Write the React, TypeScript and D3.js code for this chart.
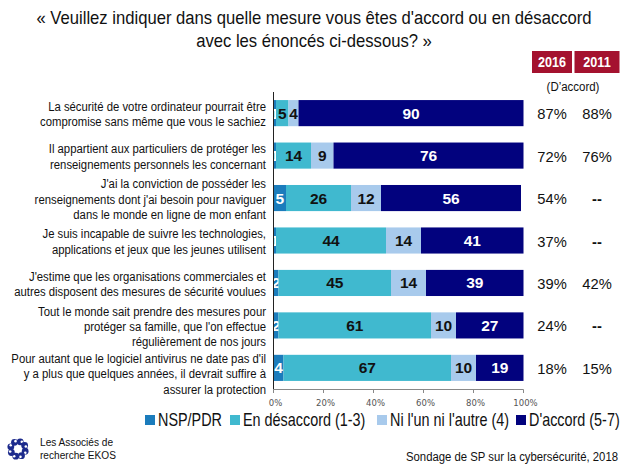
import React from "react";
import * as d3 from "d3";

const categories: string[][] = [
  ["La sécurité de votre ordinateur pourrait être", "compromise sans même que vous le sachiez"],
  ["Il appartient aux particuliers de protéger les", "renseignements personnels les concernant"],
  ["J'ai la conviction de posséder les", "renseignements dont j'ai besoin pour naviguer", "dans le monde en ligne de mon enfant"],
  ["Je suis incapable de suivre les technologies,", "applications et jeux que les jeunes utilisent"],
  ["J'estime que les organisations commerciales et", "autres disposent des mesures de sécurité voulues"],
  ["Tout le monde sait prendre des mesures pour", "protéger sa famille, que l'on effectue", "régulièrement de nos jours"],
  ["Pour autant que le logiciel antivirus ne date pas d'il", "y a plus que quelques années, il devrait suffire à", "assurer la protection"],
];
const nsp = [1, 1, 5, 1, 2, 2, 4];
const disagree = [5, 14, 26, 44, 45, 61, 67];
const neither = [4, 9, 12, 14, 14, 10, 10];
const agree = [90, 76, 56, 41, 39, 27, 19];
const pct2016 = ["87%", "72%", "54%", "37%", "39%", "24%", "18%"];
const pct2011 = ["88%", "76%", "--", "--", "42%", "--", "15%"];
const seriesNames = ["NSP/PDR", "En désaccord (1-3)", "Ni l'un ni l'autre (4)", "D'accord (5-7)"];
const xTicks = [0, 20, 40, 60, 80, 100];
const years = ["2016", "2011"];

const keys = ["nsp", "disagree", "neither", "agree"];
const colors: Record<string, string> = {
  nsp: "#1b7cbc",
  disagree: "#40b9cf",
  neither: "#a8caec",
  agree: "#02027e",
};
const textColors: Record<string, string> = {
  nsp: "#ffffff",
  disagree: "#111111",
  neither: "#111111",
  agree: "#ffffff",
};

const SANS = "'Liberation Sans', Arial, sans-serif";

function CText(props: any) {
  const { x, y, sx = 0.82, anchor = "start", children, ...rest } = props;
  return (
    <text
      transform={`translate(${x},${y}) scale(${sx},1)`}
      textAnchor={anchor}
      fontFamily={SANS}
      fill="#111"
      {...rest}
    >
      {children}
    </text>
  );
}

export default function App() {
  const rows = categories.map((c, i) => ({
    idx: i,
    nsp: nsp[i],
    disagree: disagree[i],
    neither: neither[i],
    agree: agree[i],
  }));
  const stack = d3.stack<any>().keys(keys)(rows);

  const x = d3.scaleLinear().domain([0, 100]).range([273.5, 523.5]);
  const y = d3
    .scaleBand<number>()
    .domain(rows.map((r) => r.idx))
    .range([92, 389])
    .paddingInner(0.385)
    .paddingOuter(0.19);

  const bw = y.bandwidth();
  const lineH = 15.2;
  const col2016 = 552;
  const col2011 = 597;

  const legendX = [145, 230, 377, 516];
  const legendY = 424;

  const logoCx = 18;
  const logoCy = 449;
  const blobs = d3.range(8).map((k) => {
    const a = (k / 8) * Math.PI * 2 + 0.3;
    return { cx: logoCx + Math.cos(a) * 7.5, cy: logoCy + Math.sin(a) * 7.5, a };
  });

  return (
    <svg
      width={624}
      height={468}
      style={{ position: "absolute", left: 0, top: 0, background: "#ffffff" }}
    >
      <rect x={0} y={0} width={624} height={468} fill="#ffffff" />
      {/* title */}
      <CText x={314} y={24} anchor="middle" sx={0.9} fontSize={18.5}>
        « Veuillez indiquer dans quelle mesure vous êtes d'accord ou en désaccord
      </CText>
      <CText x={314} y={47} anchor="middle" sx={0.9} fontSize={18.5}>
        avec les énoncés ci-dessous? »
      </CText>

      {/* year boxes */}
      {years.map((yr, i) => {
        const cx = i === 0 ? col2016 : col2011;
        const w = i === 0 ? 40 : 45;
        return (
          <g key={yr}>
            <rect x={cx - w / 2} y={51} width={w} height={22} fill="#a4122f" />
            <CText x={cx} y={66.5} anchor="middle" sx={0.9} fontWeight="bold" fontSize={14} fill="#ffffff">
              {yr}
            </CText>
          </g>
        );
      })}
      <CText x={573} y={91} anchor="middle" sx={0.85} fontSize={13.5}>
        (D’accord)
      </CText>

      {/* bars */}
      {stack.map((s) => (
        <g key={s.key}>
          {s.map((d: any, i: number) => {
            const x0 = x(d[0]);
            const x1 = x(d[1]);
            const yy = y(i) as number;
            return (
              <g key={i}>
                <rect x={x0} y={yy} width={Math.max(0, x1 - x0)} height={bw} fill={colors[s.key]} />
                <text
                  x={(x0 + x1) / 2}
                  y={yy + bw / 2 + 5.5}
                  textAnchor="middle"
                  fontFamily={SANS}
                  fontWeight="bold"
                  fontSize={15.5}
                  fill={textColors[s.key]}
                >
                  {d[1] - d[0]}
                </text>
              </g>
            );
          })}
        </g>
      ))}

      {/* row labels */}
      {categories.map((lines, i) => {
        const cy = (y(i) as number) + bw / 2 + (i === categories.length - 1 ? 6 : 1);
        const start = cy - ((lines.length - 1) * lineH) / 2;
        return (
          <g key={i}>
            {lines.map((ln, j) => (
              <CText key={j} x={266} y={start + j * lineH + 4.5} anchor="end" sx={0.84} fontSize={13.5}>
                {ln}
              </CText>
            ))}
          </g>
        );
      })}

      {/* percent columns */}
      {pct2016.map((p, i) => {
        const cy = (y(i) as number) + bw / 2 + 6;
        return (
          <g key={i}>
            <CText x={col2016} y={cy} anchor="middle" sx={0.95} fontSize={15.5}>
              {p}
            </CText>
            <CText
              x={col2011}
              y={cy}
              anchor="middle"
              sx={0.95}
              fontSize={15.5}
              fontWeight={pct2011[i] === "--" ? "bold" : "normal"}
            >
              {pct2011[i]}
            </CText>
          </g>
        );
      })}

      {/* axes */}
      <line x1={273.5} x2={273.5} y1={92} y2={389.5} stroke="#222" strokeWidth={1} />
      <line x1={273.5} x2={523.5} y1={389.5} y2={389.5} stroke="#888" strokeWidth={1} />
      {xTicks.map((t) => (
        <g key={t}>
          <line x1={x(t)} x2={x(t)} y1={389.5} y2={393} stroke="#888" strokeWidth={1} />
          <text
            x={x(t) + 2}
            y={406}
            textAnchor="middle"
            fontFamily="'DejaVu Sans', Verdana, sans-serif"
            fontSize={8.5}
            fill="#555"
          >
            {t}%
          </text>
        </g>
      ))}

      {/* legend */}
      {keys.map((k, i) => (
        <g key={k}>
          <rect x={legendX[i]} y={legendY - 9} width={10} height={10} fill={colors[k]} />
          <CText x={legendX[i] + 13} y={legendY + 1.5} sx={0.8} fontSize={18}>
            {seriesNames[i]}
          </CText>
        </g>
      ))}

      {/* logo */}
      <g>
        {blobs.map((b, i) => (
          <g key={i}>
            <circle cx={b.cx} cy={b.cy} r={3.4} fill="#1c2a8c" />
            <circle
              cx={b.cx + Math.cos(b.a + 1.2) * 1.6}
              cy={b.cy + Math.sin(b.a + 1.2) * 1.6}
              r={1.3}
              fill="#ffffff"
            />
          </g>
        ))}
        <CText x={40} y={446} sx={0.88} fontSize={11.5}>
          Les Associés de
        </CText>
        <CText x={40} y={459} sx={0.88} fontSize={11.5}>
          recherche EKOS
        </CText>
      </g>

      {/* footer */}
      <CText x={618} y={461} anchor="end" sx={0.84} fontSize={13.5}>
        Sondage de SP sur la cybersécurité, 2018
      </CText>
    </svg>
  );
}
